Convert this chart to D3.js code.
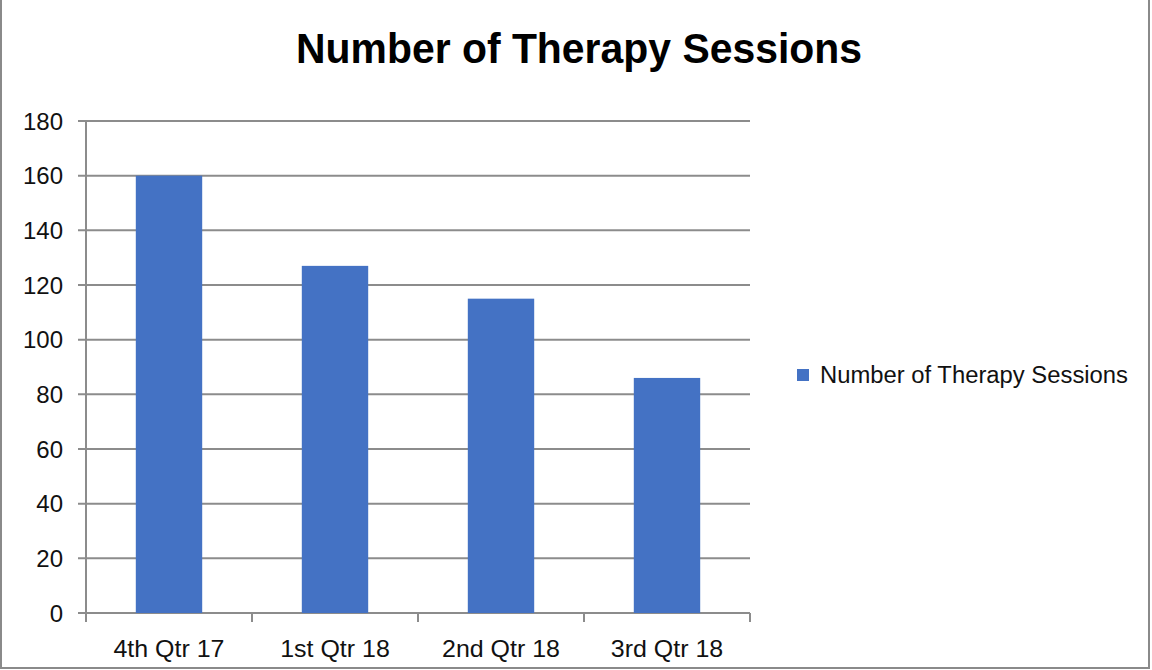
<!DOCTYPE html>
<html>
<head>
<meta charset="utf-8">
<script src="https://cdn.jsdelivr.net/npm/d3@7"></script>
<style>
  body { margin: 0; background: #fff; }
  svg { display: block; font-family: "Liberation Sans", Arial, sans-serif; }
</style>
</head>
<body>
<div id="chart"></div>
<script>
// data
const quarters = ["4th Qtr 17", "1st Qtr 18", "2nd Qtr 18", "3rd Qtr 18"];
const sessions = [160, 127, 115, 86];
const yTicks = [0, 20, 40, 60, 80, 100, 120, 140, 160, 180];
const seriesName = "Number of Therapy Sessions";
const chartTitle = "Number of Therapy Sessions";

const W = 1152, H = 670;
const margin = { top: 121, right: 402, bottom: 57, left: 86 };
const innerW = W - margin.left - margin.right,
  innerH = H - margin.top - margin.bottom;

const gridColor = "#8c8c8c";
const barColor = "#4472c4";

const svg = d3.select("#chart").append("svg")
  .attr("width", W)
  .attr("height", H);

svg.append("rect").attr("width", W).attr("height", H).attr("fill", "#fff");

// outer chart border (left, right, bottom)
svg.append("path")
  .attr("d", `M1,0 V${H - 2} H${W - 3} V0`)
  .attr("fill", "none")
  .attr("stroke", "#8a8a8a")
  .attr("stroke-width", 2);

const g = svg.append("g")
  .attr("transform", "translate(" + margin.left + "," + margin.top + ")");

const x = d3.scaleBand()
  .domain(quarters)
  .range([0, innerW])
  .paddingInner(0.6)
  .paddingOuter(0.3);

const y = d3.scaleLinear()
  .domain([0, 180])
  .range([innerH, 0]);

// horizontal gridlines with small tick stubs on the left
g.selectAll("line.grid")
  .data(yTicks)
  .join("line")
  .attr("class", "grid")
  .attr("x1", -8)
  .attr("x2", innerW)
  .attr("y1", d => y(d))
  .attr("y2", d => y(d))
  .attr("stroke", gridColor)
  .attr("stroke-width", 2);

// y axis line
g.append("line")
  .attr("x1", 0).attr("x2", 0)
  .attr("y1", y(180)).attr("y2", innerH)
  .attr("stroke", gridColor)
  .attr("stroke-width", 2);

// x ticks at category boundaries
const step = x.step();
const bounds = d3.range(quarters.length + 1).map(i => i * step);
g.selectAll("line.xtick")
  .data(bounds)
  .join("line")
  .attr("class", "xtick")
  .attr("x1", d => d).attr("x2", d => d)
  .attr("y1", innerH).attr("y2", innerH + 9)
  .attr("stroke", gridColor)
  .attr("stroke-width", 2);

// bars
g.selectAll("rect.bar")
  .data(sessions)
  .join("rect")
  .attr("class", "bar")
  .attr("x", (d, i) => x(quarters[i]))
  .attr("y", d => y(d))
  .attr("width", x.bandwidth())
  .attr("height", d => innerH - y(d))
  .attr("fill", barColor);

// stretch/condense text horizontally
function condense(sel, k) {
  sel.each(function () {
    const len = this.getComputedTextLength();
    d3.select(this)
      .attr("textLength", len * k)
      .attr("lengthAdjust", "spacingAndGlyphs");
  });
}

// y labels
g.selectAll("text.ylab")
  .data(yTicks)
  .join("text")
  .attr("class", "ylab")
  .attr("x", -23)
  .attr("y", d => y(d))
  .attr("dy", "0.36em")
  .attr("text-anchor", "end")
  .attr("font-size", 24)
  .attr("fill", "#111")
  .text(d => d);

// x labels
g.selectAll("text.xlab")
  .data(quarters)
  .join("text")
  .attr("class", "xlab")
  .attr("x", d => x(d) + x.bandwidth() / 2)
  .attr("y", innerH + 44)
  .attr("text-anchor", "middle")
  .attr("font-size", 24)
  .attr("fill", "#111")
  .text(d => d)
  .call(condense, 1.04);

// title
svg.append("text")
  .attr("x", 579)
  .attr("y", 63)
  .attr("text-anchor", "middle")
  .attr("font-size", 42)
  .attr("font-weight", "bold")
  .attr("fill", "#000")
  .attr("textLength", 566)
  .attr("lengthAdjust", "spacingAndGlyphs")
  .text(chartTitle);

// legend
const legend = svg.append("g").attr("transform", "translate(797,369)");
legend.append("rect")
  .attr("width", 12).attr("height", 12)
  .attr("fill", barColor);
legend.append("text")
  .attr("x", 23)
  .attr("y", 14)
  .attr("font-size", 23)
  .attr("fill", "#111")
  .attr("textLength", 308)
  .attr("lengthAdjust", "spacingAndGlyphs")
  .text(seriesName);
</script>
</body>
</html>
